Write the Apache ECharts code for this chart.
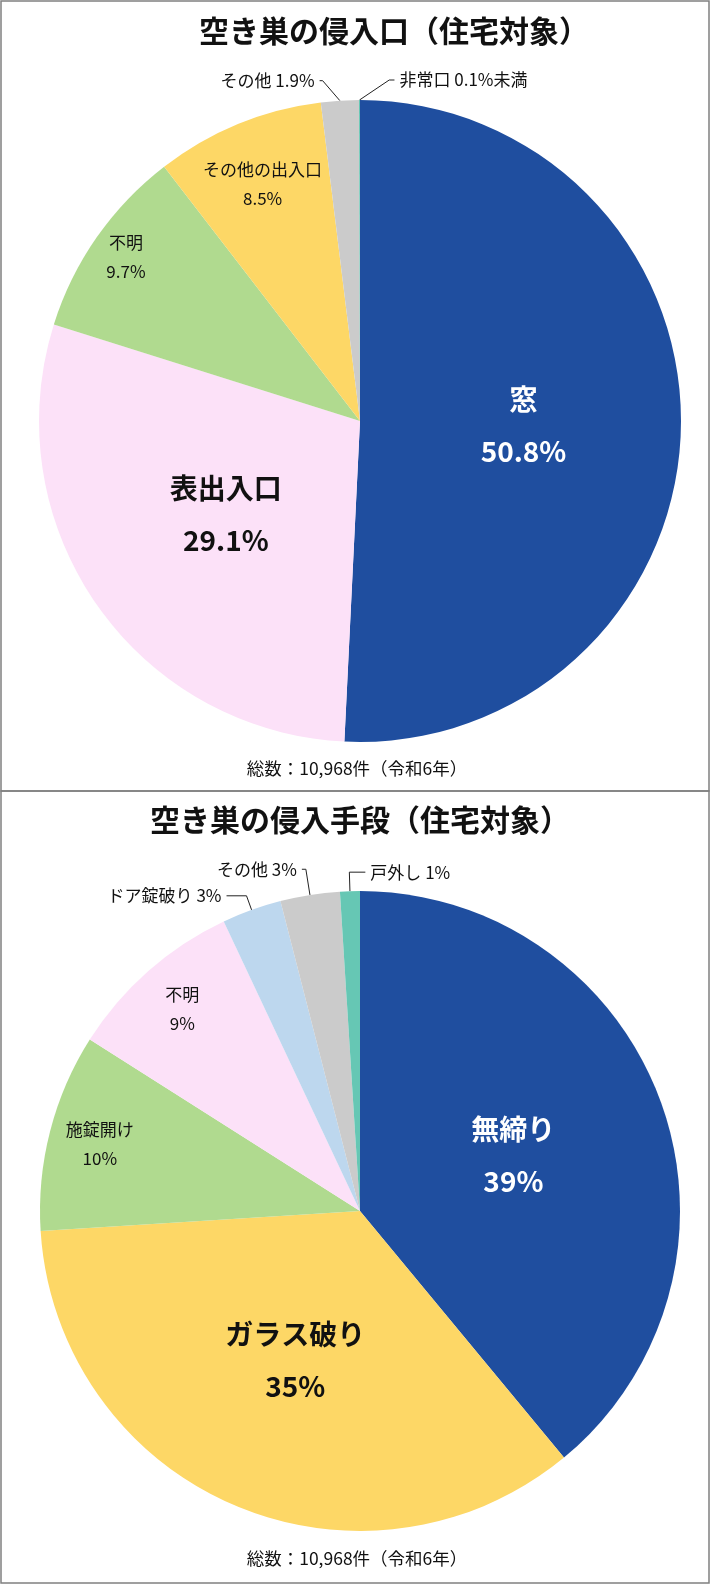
<!DOCTYPE html>
<html>
<head>
<meta charset="utf-8">
<title>空き巣の侵入口・侵入手段（住宅対象）</title>
<script src="https://cdn.jsdelivr.net/npm/echarts@6/dist/echarts.min.js"></script>
<style>
  html, body { margin: 0; padding: 0; background: #fff; }
  #chart { width: 710px; height: 1585px; }
</style>
</head>
<body>
<div id="chart"></div>
<script>
// 侵入口
const entryNames = ['窓', '表出入口', '不明', 'その他の出入口', 'その他', '非常口'];
const entryValues = [50.8, 29.1, 9.7, 8.5, 1.9, 0.05];
const entryPercents = ['50.8%', '29.1%', '9.7%', '8.5%', '1.9%', '0.1%未満'];

// 侵入手段
const methodNames = ['無締り', 'ガラス破り', '施錠開け', '不明', 'ドア錠破り', 'その他', '戸外し'];
const methodValues = [39, 35, 10, 9, 3, 3, 1];
const methodPercents = ['39%', '35%', '10%', '9%', '3%', '3%', '1%'];

const titles = ['空き巣の侵入口（住宅対象）', '空き巣の侵入手段（住宅対象）'];
const footnote = '総数：10,968件（令和6年）';

const entryColors = ['#1F4E9F', '#FCE1F8', '#B0DA8F', '#FDD766', '#CBCBCB', '#66C7B4'];
const methodColors = ['#1F4E9F', '#FDD766', '#B0DA8F', '#FCE1F8', '#BDD7EE', '#CBCBCB', '#66C7B4'];

const FONT = "'Noto Sans CJK JP', 'Noto Sans', sans-serif";
const INK = '#111';

const bigLabel = (color) => ({
  show: true, position: 'inside', color, fontFamily: FONT,
  fontSize: 28, fontWeight: 'bold', lineHeight: 52
});
const smallLabel = {
  show: true, position: 'inside', color: INK, fontFamily: FONT, fontSize: 17, lineHeight: 29
};
const outLabel = {
  show: true, position: 'outside', color: INK, fontFamily: FONT, fontSize: 17
};

// moves the leader of some outside labels to the right side, and bends the first leg
function leaderLayout(flip, elbow) {
  return (params) => {
    const pts = params.labelLinePoints;
    if (!pts || pts.length < 3) { return {}; }
    const p0 = pts[0];
    const p1 = pts[1];
    let p2 = pts[2];
    const flipped = flip.indexOf(params.dataIndex) >= 0;
    if (flipped) { p2 = [2 * p1[0] - p2[0], p2[1]]; }
    const mid = elbow ? [p0[0] + (p2[0] - p0[0]) * elbow, p1[1]] : p1;
    const out = { labelLinePoints: [p0, mid, p2] };
    if (flipped) {
      out.x = p2[0] + 5;
      out.align = 'left';
    }
    return out;
  };
}

function buildPie(cfg) {
  const data = cfg.values.map((v, i) => {
    const item = {
      name: cfg.names[i],
      value: v,
      itemStyle: { color: cfg.colors[i] },
      label: { show: false },
      labelLine: { show: false }
    };
    if (cfg.big[i]) {
      item.label = Object.assign(bigLabel(cfg.big[i]), { formatter: `${cfg.names[i]}\n${cfg.pcts[i]}` });
    }
    if (cfg.out[i]) {
      item.label = Object.assign({}, outLabel, { formatter: `${cfg.names[i]} ${cfg.pcts[i]}` });
      item.labelLine = {
        show: true, length: cfg.out[i][0], length2: cfg.out[i][1],
        lineStyle: { color: '#222', width: 1 }
      };
    }
    return item;
  });
  const series = [{
    type: 'pie',
    center: cfg.center,
    radius: cfg.radius,
    startAngle: 90,
    clockwise: true,
    avoidLabelOverlap: false,
    silent: true,
    animation: false,
    itemStyle: { borderWidth: 0 },
    emphasis: { disabled: true },
    labelLayout: leaderLayout(cfg.flip, cfg.elbow),
    data
  }];
  // small inner labels sit further out than half the radius: a see-through ring carries them
  Object.keys(cfg.ring).forEach((k) => {
    const idx = Number(k);
    const frac = cfg.ring[k];
    series.push({
      type: 'pie',
      center: cfg.center,
      radius: [(2 * frac - 1) * cfg.radius, cfg.radius],
      startAngle: 90,
      clockwise: true,
      avoidLabelOverlap: false,
      silent: true,
      animation: false,
      z: 3,
      itemStyle: { color: 'rgba(0,0,0,0)', borderWidth: 0 },
      emphasis: { disabled: true },
      labelLine: { show: false },
      data: cfg.values.map((v, j) => ({
        name: cfg.names[j],
        value: v,
        label: j === idx
          ? Object.assign({}, smallLabel, { formatter: `${cfg.names[j]}\n${cfg.pcts[j]}` })
          : { show: false }
      }))
    });
  });
  return series;
}

const entrySeries = buildPie({
  names: entryNames, values: entryValues, pcts: entryPercents, colors: entryColors,
  center: [360, 421], radius: 321,
  big: { 0: '#fff', 1: INK },
  ring: { 2: 0.88, 3: 0.79 },
  out: { 4: [20, 19], 5: [20, 35] },
  flip: [5],
  elbow: 0.85
});

const methodSeries = buildPie({
  names: methodNames, values: methodValues, pcts: methodPercents, colors: methodColors,
  center: [360, 1211], radius: 320,
  big: { 0: '#fff', 1: INK },
  ring: { 2: 0.83, 3: 0.83 },
  out: { 4: [15, 20], 5: [26, 4], 6: [19, 16] },
  flip: [6],
  elbow: 0
});

const textEl = (x, y, text, size, weight) => ({
  type: 'text', x, y, silent: true,
  style: {
    text, fill: INK, fontFamily: FONT, fontSize: size, fontWeight: weight,
    align: 'center', verticalAlign: 'middle'
  }
});

const frame = (y, h) => ({
  type: 'rect', silent: true, z: -1,
  shape: { x: 1, y, width: 708, height: h },
  style: { fill: 'none', stroke: '#808080', lineWidth: 1.5 }
});

const chart = echarts.init(document.getElementById('chart'), null, { renderer: 'canvas' });
chart.setOption({
  animation: false,
  backgroundColor: '#fff',
  graphic: [
    frame(1, 790),
    frame(791, 792),
    textEl(394, 31, titles[0], 30, 'bold'),
    textEl(360, 820, titles[1], 30, 'bold'),
    textEl(357, 768, footnote, 17.5, 'normal'),
    textEl(357, 1558, footnote, 17.5, 'normal')
  ],
  series: entrySeries.concat(methodSeries)
});
</script>
</body>
</html>
